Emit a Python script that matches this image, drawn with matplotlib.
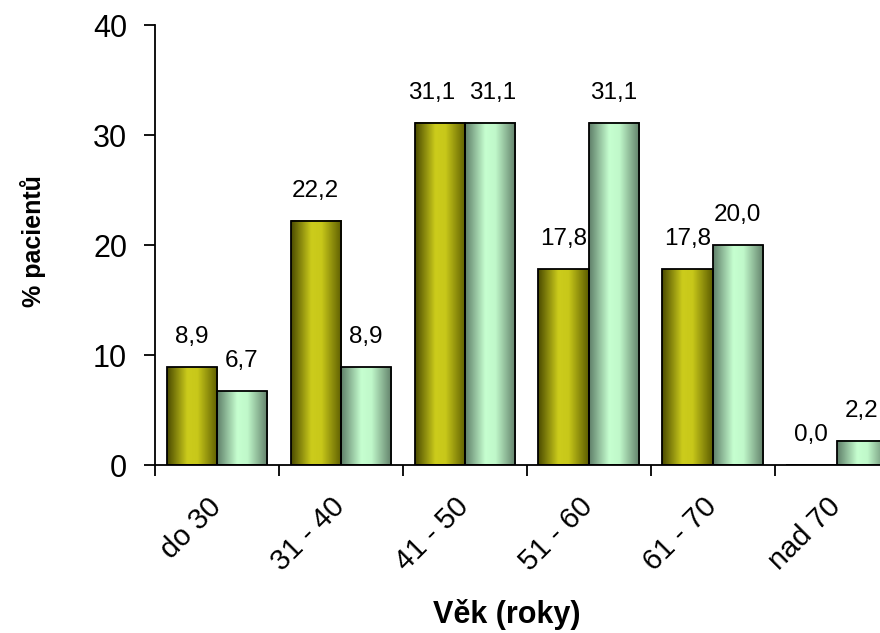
import numpy as np
import matplotlib

matplotlib.use("Agg")
import matplotlib.pyplot as plt
from matplotlib.colors import LinearSegmentedColormap
from matplotlib.transforms import ScaledTranslation

plt.rcParams["font.family"] = ["Liberation Sans", "DejaVu Sans"]

categories = ["do 30", "31 - 40", "41 - 50", "51 - 60", "61 - 70", "nad 70"]
series_a = [8.9, 22.2, 31.1, 17.8, 17.8, 0.0]
series_b = [6.7, 8.9, 31.1, 31.1, 20.0, 2.2]

# horizontal "cylinder" shading like the old Excel fill
cmap_a = LinearSegmentedColormap.from_list(
    "olive", [(0.0, "#4a4a00"), (0.4, "#cccc1c"), (0.6, "#c8c81a"), (1.0, "#5c5c00")])
cmap_b = LinearSegmentedColormap.from_list(
    "mint", [(0.0, "#5e7e68"), (0.4, "#c6ffd0"), (0.6, "#c0f8ca"), (1.0, "#607e68")])

# Excel pushed the two touching labels apart a bit (points)
nudge_a = [0, 0, -6, 0, 0, 0]
nudge_b = [0, 0, 2, 0, 0, 0]

fig = plt.figure(figsize=(8.8, 6.33), dpi=100)
ax = fig.add_axes([0.176, 0.2654, 0.845, 0.695])

x = np.arange(len(categories))
w = 0.405
grad = np.linspace(0, 1, 256).reshape(1, -1)

for vals, offset, cmap, nudge in ((series_a, -w / 2, cmap_a, nudge_a),
                                  (series_b, w / 2, cmap_b, nudge_b)):
    bars = ax.bar(x + offset, vals, width=w, facecolor="none",
                  edgecolor="black", linewidth=1.3, zorder=3)
    for rect, v, dx in zip(bars, vals, nudge):
        x0 = rect.get_x()
        if v > 0:
            ax.imshow(grad, cmap=cmap, aspect="auto", zorder=2,
                      extent=(x0, x0 + rect.get_width(), 0, v), interpolation="bicubic")
        ax.annotate(f"{v:.1f}".replace(".", ","), (x0 + rect.get_width() / 2, v),
                    xytext=(dx, 21.5), textcoords="offset points",
                    ha="center", va="center", fontsize=17.5)

ax.set_xlim(-0.5, len(categories) - 0.5)
ax.set_ylim(0, 40)
ax.set_yticks([0, 10, 20, 30, 40])

ax.set_xticks(x)
ax.set_xticklabels(categories, rotation=45, ha="right", va="center",
                   rotation_mode="anchor", fontsize=21)
shift = ScaledTranslation(-12 / 100, 0, fig.dpi_scale_trans)
for lbl in ax.get_xticklabels():
    lbl.set_transform(lbl.get_transform() + shift)
ax.set_xticks(np.arange(-0.5, len(categories), 1.0), minor=True)
ax.tick_params(axis="x", which="major", length=0, pad=27)
ax.tick_params(axis="x", which="minor", length=8, width=1.3, direction="out")
ax.tick_params(axis="y", length=8, width=1.3, direction="out", labelsize=22, pad=12)

for side in ("top", "right"):
    ax.spines[side].set_visible(False)
for side in ("left", "bottom"):
    ax.spines[side].set_linewidth(1.3)

ax.set_ylabel("% pacientů", fontsize=18, fontweight="bold", va="center")
ax.yaxis.set_label_coords(-0.164, 0.51)
ax.set_xlabel("Věk (roky)", fontsize=22, fontweight="bold", va="center")
ax.xaxis.set_label_coords(0.473, -0.339)

fig.savefig("out.png", dpi=100)
